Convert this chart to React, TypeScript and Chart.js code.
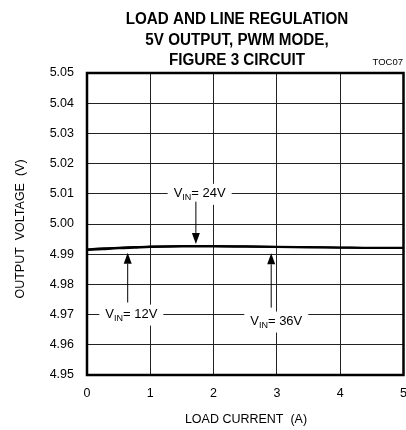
import { useEffect, useRef } from "react";
import { Chart, registerables } from "chart.js";

Chart.register(...registerables);

const titleLines = ["LOAD AND LINE REGULATION", "5V OUTPUT, PWM MODE,", "FIGURE 3 CIRCUIT"];
const tocLabel = "TOC07";
const xAxisTitle = "LOAD CURRENT  (A)";
const yAxisTitle = "OUTPUT  VOLTAGE  (V)";

const xTicks = [0, 1, 2, 3, 4, 5];
const yTicks = [4.95, 4.96, 4.97, 4.98, 4.99, 5.0, 5.01, 5.02, 5.03, 5.04, 5.05];

const loadCurrent = [0, 0.25, 0.5, 0.75, 1, 1.5, 2, 2.5, 3, 3.5, 4, 4.5, 5];
const vin12 = [4.9913, 4.9916, 4.9919, 4.9921, 4.9923, 4.9925, 4.9925, 4.9924, 4.9923, 4.9922, 4.9921, 4.9920, 4.9920];
const vin24 = [4.9917, 4.9920, 4.9922, 4.9924, 4.9926, 4.9928, 4.9928, 4.9927, 4.9925, 4.9924, 4.9923, 4.9922, 4.9922];
const vin36 = [4.9915, 4.9918, 4.9921, 4.9923, 4.9925, 4.9927, 4.9927, 4.9926, 4.9924, 4.9923, 4.9922, 4.9921, 4.9921];

const vinNames = ["12V", "24V", "36V"];
const labelX = [0.7, 1.78, 2.99];
const labelY = [4.97, 5.01, 4.9677];
const arrowX = [0.643, 1.72, 2.91];
const arrowFrom = [4.974, 5.0074, 4.9723];
const arrowTo = [4.9905, 4.9934, 4.9903];

const FONT = "'Liberation Sans', Arial, Helvetica, sans-serif";

const overlayPlugin = {
  id: "overlay",
  afterDraw(chart: any) {
    const ctx = chart.ctx as CanvasRenderingContext2D;
    const xs = chart.scales.x;
    const ys = chart.scales.y;
    const area = chart.chartArea;
    ctx.save();
    ctx.fillStyle = "#000";
    ctx.strokeStyle = "#000";

    // title (slightly condensed bold)
    ctx.font = `bold 16px ${FONT}`;
    ctx.textAlign = "center";
    ctx.textBaseline = "alphabetic";
    const baselines = [24, 44.5, 65];
    titleLines.forEach((t, i) => {
      ctx.save();
      ctx.translate(237, baselines[i]);
      ctx.scale(0.95, 1);
      ctx.fillText(t, 0, 0);
      ctx.restore();
    });

    // TOC label
    ctx.font = `9.5px ${FONT}`;
    ctx.textAlign = "right";
    ctx.fillText(tocLabel, 403, 65);

    // axis titles
    ctx.font = `12.5px ${FONT}`;
    ctx.textAlign = "center";
    ctx.textBaseline = "middle";
    ctx.fillText(xAxisTitle, 246, 420);
    ctx.save();
    ctx.translate(21, 229);
    ctx.rotate(-Math.PI / 2);
    ctx.fillText(yAxisTitle, 0, 0);
    ctx.restore();

    // annotations
    for (let i = 0; i < vinNames.length; i++) {
      const cx = xs.getPixelForValue(labelX[i]);
      const cy = ys.getPixelForValue(labelY[i]);
      const big = `13px ${FONT}`;
      const small = `9px ${FONT}`;
      ctx.font = big;
      const wV = ctx.measureText("V").width;
      const rest = "= " + vinNames[i];
      const wR = ctx.measureText(rest).width;
      ctx.font = small;
      const wS = ctx.measureText("IN").width;
      const total = wV + wS + wR;
      const left = cx - total / 2;
      ctx.fillStyle = "#fff";
      ctx.fillRect(left - 6, cy - 10, total + 12, 21);
      ctx.fillStyle = "#000";
      ctx.textAlign = "left";
      ctx.textBaseline = "middle";
      ctx.font = big;
      ctx.fillText("V", left, cy);
      ctx.font = small;
      ctx.fillText("IN", left + wV, cy + 4);
      ctx.font = big;
      ctx.fillText(rest, left + wV + wS, cy);

      // arrow
      const ax = xs.getPixelForValue(arrowX[i]);
      const y0 = ys.getPixelForValue(arrowFrom[i]);
      const y1 = ys.getPixelForValue(arrowTo[i]);
      const dir = y1 > y0 ? 1 : -1;
      const headLen = 11;
      ctx.lineWidth = 1;
      ctx.beginPath();
      ctx.moveTo(ax, y0);
      ctx.lineTo(ax, y1 - dir * headLen);
      ctx.stroke();
      ctx.beginPath();
      ctx.moveTo(ax, y1);
      ctx.lineTo(ax - 4, y1 - dir * headLen);
      ctx.lineTo(ax + 4, y1 - dir * headLen);
      ctx.closePath();
      ctx.fill();
    }

    // plot border
    ctx.lineWidth = 2.5;
    ctx.strokeStyle = "#000";
    ctx.strokeRect(area.left, area.top, area.right - area.left, area.bottom - area.top);
    ctx.restore();
  },
};

export default function App() {
  const ref = useRef<HTMLCanvasElement | null>(null);
  useEffect(() => {
    if (!ref.current) return;
    const mk = (vals: number[]) => loadCurrent.map((x, i) => ({ x, y: vals[i] }));
    const ds = (label: string, vals: number[]) => ({
      label,
      data: mk(vals),
      borderColor: "#000",
      borderWidth: 1.7,
      pointRadius: 0,
      tension: 0.4,
      cubicInterpolationMode: "monotone" as const,
      fill: false,
    });
    const tickFont = { family: FONT, size: 12.5 };
    const chart = new Chart(ref.current, {
      type: "line",
      data: {
        datasets: [ds("VIN = 12V", vin12), ds("VIN = 24V", vin24), ds("VIN = 36V", vin36)],
      },
      options: {
        animation: false,
        responsive: false,
        devicePixelRatio: 1,
        layout: { padding: { top: 73, right: 16.5, bottom: 0, left: 0 } },
        plugins: { legend: { display: false }, tooltip: { enabled: false }, title: { display: false } },
        scales: {
          x: {
            type: "linear",
            min: 0,
            max: 5,
            afterBuildTicks: (s: any) => {
              s.ticks = xTicks.map((v) => ({ value: v }));
            },
            afterFit: (s: any) => {
              s.height = 55;
            },
            grid: { color: "#222", lineWidth: 1, drawTicks: false },
            border: { display: false },
            ticks: { padding: 11, color: "#000", font: tickFont, maxRotation: 0, autoSkip: false, callback: (v: any) => String(v) },
          },
          y: {
            type: "linear",
            min: 4.95,
            max: 5.05,
            afterBuildTicks: (s: any) => {
              s.ticks = yTicks.map((v) => ({ value: v }));
            },
            afterFit: (s: any) => {
              s.width = 87;
            },
            grid: { color: "#222", lineWidth: 1, drawTicks: false },
            border: { display: false },
            ticks: { padding: 13, color: "#000", font: tickFont, autoSkip: false, callback: (v: any) => Number(v).toFixed(2) },
          },
        },
      },
      plugins: [overlayPlugin],
    });
    return () => chart.destroy();
  }, []);
  return (
    <div style={{ position: "fixed", left: 0, top: 0, width: 406, height: 430, overflow: "hidden", background: "#fff" }}>
      <canvas ref={ref} width={420} height={430} style={{ width: 420, height: 430, display: "block" }} />
    </div>
  );
}
